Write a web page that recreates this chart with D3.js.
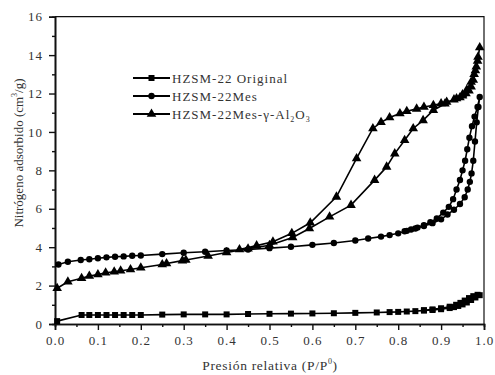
<!DOCTYPE html>
<html>
<head>
<meta charset="utf-8">
<script src="https://cdn.jsdelivr.net/npm/d3@7"></script>
<style>
  body { margin: 0; background: #fff; }
  svg text { font-family: "Liberation Serif", "Times New Roman", serif; fill: #333; }
</style>
</head>
<body>
<div id="chart"></div>
<script>
// series: [P/P0, volume] in measurement order (adsorption then desorption)
const original = [[0.005,0.15],[0.062,0.47],[0.08,0.47],[0.1,0.47],[0.12,0.47],[0.14,0.47],[0.16,0.47],[0.18,0.47],[0.2,0.47],
  [0.25,0.49],[0.3,0.5],[0.35,0.5],[0.4,0.5],[0.45,0.52],[0.5,0.53],[0.55,0.54],[0.6,0.55],[0.65,0.56],[0.7,0.58],[0.75,0.6],
  [0.78,0.62],[0.8,0.63],[0.82,0.65],[0.84,0.67],[0.86,0.7],[0.88,0.73],[0.9,0.77],[0.92,0.83],[0.93,0.88],[0.94,0.94],
  [0.95,1.02],[0.96,1.12],[0.97,1.25],[0.98,1.38],[0.99,1.5],[0.985,1.52],[0.975,1.45],[0.965,1.35],[0.955,1.22],
  [0.945,1.1],[0.935,1.0],[0.92,0.9],[0.9,0.82],[0.88,0.76],[0.86,0.72]];

const mes = [[0.008,3.1],[0.03,3.24],[0.06,3.33],[0.08,3.37],[0.1,3.42],[0.12,3.47],[0.14,3.5],[0.16,3.52],[0.18,3.55],
  [0.2,3.57],[0.25,3.64],[0.3,3.71],[0.35,3.76],[0.4,3.83],[0.45,3.88],[0.5,3.95],[0.55,4.02],[0.6,4.12],[0.65,4.22],
  [0.7,4.35],[0.73,4.45],[0.76,4.55],[0.78,4.63],[0.8,4.72],[0.82,4.85],[0.84,4.97],[0.86,5.1],[0.88,5.25],[0.9,5.45],
  [0.915,5.7],[0.93,5.95],[0.944,6.25],[0.955,6.6],[0.962,7.0],[0.967,7.4],[0.971,7.84],[0.975,8.5],[0.979,9.5],
  [0.983,10.5],[0.987,11.3],[0.99,11.82],
  [0.985,11.3],[0.978,10.8],[0.972,10.3],[0.966,9.7],[0.961,9.1],[0.956,8.5],[0.95,8.0],[0.944,7.5],[0.936,7.0],
  [0.928,6.5],[0.918,6.1],[0.905,5.8],[0.89,5.5],[0.875,5.3],[0.86,5.15],[0.845,5.02],[0.83,4.92],[0.815,4.83]];

const mesAl = [[0.005,1.86],[0.03,2.2],[0.062,2.38],[0.08,2.5],[0.1,2.58],[0.118,2.67],[0.138,2.72],[0.153,2.77],
  [0.176,2.84],[0.2,2.93],[0.25,3.1],[0.26,3.15],[0.297,3.3],[0.305,3.33],[0.357,3.54],[0.4,3.72],[0.45,3.92],
  [0.5,4.1],[0.554,4.5],[0.593,4.97],[0.64,5.58],[0.69,6.19],[0.745,7.49],[0.773,8.18],[0.792,8.87],[0.815,9.57],
  [0.835,10.18],[0.858,10.6],[0.882,11.13],[0.909,11.47],[0.936,11.74],[0.95,11.95],[0.96,12.2],[0.97,12.6],
  [0.977,13.0],[0.982,13.4],[0.986,13.9],[0.99,14.4],
  [0.985,13.7],[0.98,13.2],[0.975,12.7],[0.97,12.35],[0.965,12.15],[0.958,12.0],[0.95,11.88],[0.944,11.79],
  [0.93,11.68],[0.913,11.56],[0.9,11.48],[0.882,11.39],[0.86,11.3],[0.843,11.2],[0.82,11.08],[0.804,10.96],
  [0.78,10.75],[0.76,10.5],[0.741,10.18],[0.703,8.62],[0.656,6.62],[0.595,5.27],[0.552,4.72],[0.508,4.28],
  [0.47,4.08],[0.43,3.88]];

const xMajor = [0, 0.1, 0.2, 0.3, 0.4, 0.5, 0.6, 0.7, 0.8, 0.9, 1.0];
const xMinor = [0.05, 0.15, 0.25, 0.35, 0.45, 0.55, 0.65, 0.75, 0.85, 0.95];
const yMajor = [0, 2, 4, 6, 8, 10, 12, 14, 16];
const yMinor = [1, 3, 5, 7, 9, 11, 13, 15];

const width = 495, height = 375;
const plotLeft = 55, plotRight = 484, plotTop = 16.7, plotBottom = 324;
const serif = "'Liberation Serif', 'Times New Roman', serif";

const svg = d3.select("#chart").append("svg")
    .attr("width", width)
    .attr("height", height);

const x = d3.scaleLinear().domain([0, 1]).range([plotLeft, plotRight]);
const y = d3.scaleLinear().domain([0, 16]).range([plotBottom, plotTop]);

// frame (top + right)
svg.append("path")
    .attr("d", "M" + plotLeft + "," + plotTop + "H" + plotRight + "V" + plotBottom)
    .attr("fill", "none")
    .attr("stroke", "#111")
    .attr("stroke-width", 1.2);

function styleAxis(g) {
    g.attr("font-family", serif);
    g.select(".domain").attr("stroke", "#111").attr("stroke-width", 1.6);
    g.selectAll(".tick line").attr("stroke", "#111").attr("stroke-width", 1.4);
    g.selectAll(".tick text")
        .attr("font-size", 13)
        .style("letter-spacing", "1px")
        .attr("fill", "#333");
}

svg.append("g")
    .attr("transform", "translate(0," + plotBottom + ")")
    .call(d3.axisBottom(x).tickValues(xMinor).tickSize(3).tickFormat(""))
    .call(styleAxis);
svg.append("g")
    .attr("transform", "translate(0," + plotBottom + ")")
    .call(d3.axisBottom(x).tickValues(xMajor).tickSize(6).tickPadding(6).tickFormat(d3.format(".1f")))
    .call(styleAxis);

svg.append("g")
    .attr("transform", "translate(" + plotLeft + ",0)")
    .call(d3.axisLeft(y).tickValues(yMinor).tickSize(3).tickFormat(""))
    .call(styleAxis);
svg.append("g")
    .attr("transform", "translate(" + plotLeft + ",0)")
    .call(d3.axisLeft(y).tickValues(yMajor).tickSize(6).tickPadding(6).tickFormat(d3.format("d")))
    .call(styleAxis);

// axis titles
const yTitle = svg.append("text")
    .attr("transform", "translate(23,153) rotate(-90)")
    .attr("text-anchor", "middle")
    .attr("font-family", serif)
    .attr("font-size", 13);
yTitle.append("tspan").text("Nitrógeno adsorbido (cm");
yTitle.append("tspan").attr("font-size", 8).attr("dy", -6).text("3");
yTitle.append("tspan").attr("dy", 6).text("/g)");

const xTitle = svg.append("text")
    .attr("x", 270)
    .attr("y", 370)
    .attr("text-anchor", "middle")
    .attr("font-family", serif)
    .attr("font-size", 13.5)
    .style("letter-spacing", "0.7px");
xTitle.append("tspan").text("Presión relativa (P/P");
xTitle.append("tspan").attr("font-size", 8).attr("dy", -6).text("0");
xTitle.append("tspan").attr("dy", 6).text(")");

// series
const series = [
    {name: "original", data: original, symbol: d3.symbolSquare, size: 36},
    {name: "mes", data: mes, symbol: d3.symbolCircle, size: 32},
    {name: "mesAl", data: mesAl, symbol: d3.symbolTriangle, size: 40}
];

const line = d3.line().x(d => x(d[0])).y(d => y(d[1]));

series.forEach(s => {
    svg.append("path")
        .datum(s.data)
        .attr("d", line)
        .attr("fill", "none")
        .attr("stroke", "#000")
        .attr("stroke-width", 1.6);

    svg.append("g").selectAll("path")
        .data(s.data)
        .enter().append("path")
        .attr("transform", d => "translate(" + x(d[0]) + "," + y(d[1]) + ")")
        .attr("d", d3.symbol().type(s.symbol).size(s.size))
        .attr("fill", "#000");
});

// legend
const legendRows = [78, 96, 114];
const legend = svg.append("g");
series.forEach((s, i) => {
    const ly = legendRows[i];
    legend.append("line")
        .attr("x1", 133).attr("x2", 170)
        .attr("y1", ly).attr("y2", ly)
        .attr("stroke", "#000")
        .attr("stroke-width", 2);
    legend.append("path")
        .attr("transform", "translate(151.5," + ly + ")")
        .attr("d", d3.symbol().type(s.symbol).size(s.size))
        .attr("fill", "#000");
});

function legendText(i) {
    return legend.append("text")
        .attr("x", 172)
        .attr("y", legendRows[i] + 4.5)
        .attr("font-family", serif)
        .attr("font-size", 13)
        .style("letter-spacing", "1px");
}
legendText(0).text("HZSM-22 Original");
legendText(1).text("HZSM-22Mes");
const t3 = legendText(2);
t3.append("tspan").text("HZSM-22Mes-γ-Al");
t3.append("tspan").attr("font-size", 8).attr("dy", 3).text("2");
t3.append("tspan").attr("dy", -3).text("O");
t3.append("tspan").attr("font-size", 8).attr("dy", 3).text("3");
</script>
</body>
</html>
